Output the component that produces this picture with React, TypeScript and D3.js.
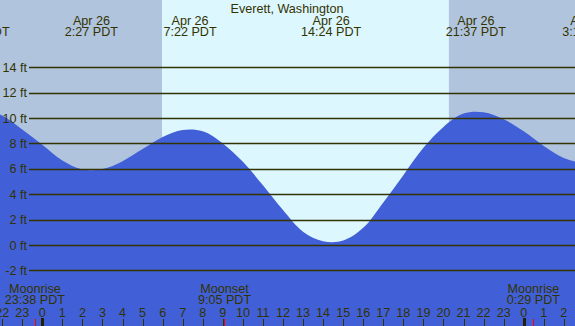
import React from 'react';
import * as d3 from 'd3';

// tide height (ft), one value per hour (hour 0 = Apr 26 00:00)
const tideHours = [-4, -3, -2, -1, 0, 1, 2, 3, 4, 5, 6, 7, 8, 9, 10, 11, 12, 13, 14, 15, 16, 17, 18, 19, 20, 21, 22, 23, 24, 25, 26, 27, 28];
const tideFeet = [10.3, 10.66, 10.2, 9.1, 7.9, 6.65, 5.95, 5.98, 6.6, 7.55, 8.5, 9.05, 8.95, 8.0, 6.55, 4.7, 2.75, 1.05, 0.3, 0.35, 1.35, 3.35, 5.5, 7.65, 9.3, 10.35, 10.45, 9.9, 8.95, 7.8, 6.85, 6.45, 6.4];

// highs and lows shown at the top
const extremeDays = ['Apr 25', 'Apr 26', 'Apr 26', 'Apr 26', 'Apr 26', 'Apr 27'];
const extremeTimes = ['20:52', '2:27', '7:22', '14:24', '21:37', '3:15'];
const extremeHours = [-3.13, 2.45, 7.367, 14.4, 21.617, 27.25];

// moon events along the bottom
const moonNames = ['Moonrise', 'Moonset', 'Moonrise'];
const moonTimes = ['23:38', '9:05', '0:29'];
const moonHours = [-0.367, 9.083, 24.483];

const sunrise = 5.967;
const sunset = 20.27;

const feetTicks = [-2, 0, 2, 4, 6, 8, 10, 12, 14];
const hourTicks = d3.range(-3, 28);

const W = 575;
const H = 326;
const textColor = '#333300';
const font = '"Liberation Sans", Arial, sans-serif';

export default function App() {
  const x = d3.scaleLinear().domain([0, 24]).range([42.3, 523.7]);
  const y = d3.scaleLinear().domain([-2, 14]).range([270.4, 67.2]);

  const area = d3.area<number>()
    .x((d, i) => x(tideHours[i]))
    .y0(H)
    .y1(d => y(d))
    .curve(d3.curveCatmullRom);

  return (
    <svg width={W} height={H} style={{ position: 'fixed', left: 0, top: 0 }} fontFamily={font} fontSize={12.6}>
      <rect x={0} y={0} width={W} height={H} fill="#b0c4de" />
      <rect x={x(sunrise)} y={0} width={x(sunset) - x(sunrise)} height={H} fill="#ddf7ff" />

      <path d={area(tideFeet) || ''} fill="#4160d8" />

      {feetTicks.map(f => (
        <g key={f}>
          <line x1={29} x2={W} y1={Math.round(y(f)) + 0.5} y2={Math.round(y(f)) + 0.5} stroke={textColor} strokeWidth={1.3} />
          <text x={27} y={y(f) + 4.5} textAnchor="end" fill={textColor}>{f} ft</text>
        </g>
      ))}

      <text x={287} y={12.5} textAnchor="middle" fill={textColor}>Everett, Washington</text>

      {extremeHours.map((h, i) => (
        <g key={i} fill={textColor} textAnchor="middle">
          <text x={x(h)} y={24.5}>{extremeDays[i]}</text>
          <text x={x(h)} y={36}>{extremeTimes[i]} PDT</text>
        </g>
      ))}

      {moonHours.map((h, i) => (
        <g key={i} fill={textColor} textAnchor="middle">
          <text x={x(h)} y={293}>{moonNames[i]}</text>
          <text x={x(h)} y={304}>{moonTimes[i]} PDT</text>
          <line x1={Math.round(x(h)) + 0.5} x2={Math.round(x(h)) + 0.5} y1={319} y2={H} stroke="red" strokeWidth={1} />
        </g>
      ))}

      {hourTicks.map(h => {
        const midnight = h % 24 === 0;
        return (
          <g key={h}>
            <text x={x(h)} y={316.5} textAnchor="middle" fill={textColor}>{((h % 24) + 24) % 24}</text>
            <line x1={Math.round(x(h)) + 0.5} x2={Math.round(x(h)) + 0.5} y1={midnight ? 318 : 319} y2={H}
              stroke={midnight ? '#222200' : textColor} strokeWidth={midnight ? 3 : 1} />
          </g>
        );
      })}
    </svg>
  );
}
